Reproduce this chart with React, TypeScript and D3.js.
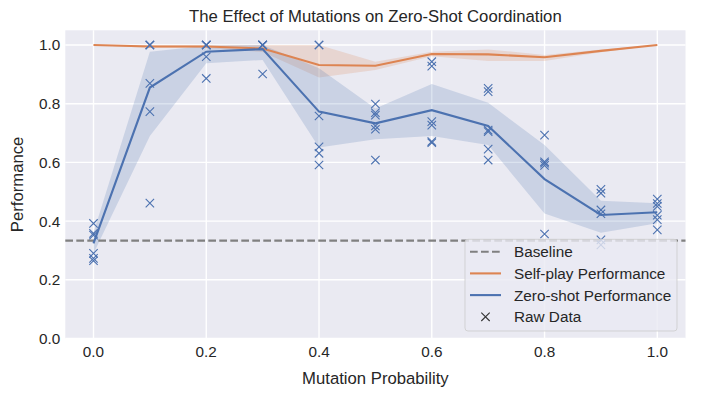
import React from 'react';
import * as d3 from 'd3';

// mutation probabilities on the x axis
const probs = [0, 0.1, 0.2, 0.3, 0.4, 0.5, 0.6, 0.7, 0.8, 0.9, 1.0];

// self-play performance: mean and confidence band
const selfMean = [1.0, 0.995, 0.995, 0.988, 0.932, 0.929, 0.969, 0.968, 0.958, 0.98, 1.0];
const selfLo = [1.0, 0.99, 0.99, 0.976, 0.889, 0.915, 0.962, 0.945, 0.945, 0.975, 1.0];
const selfHi = [1.0, 1.0, 1.0, 1.0, 1.0, 0.943, 0.977, 0.985, 0.966, 0.985, 1.0];

// zero-shot performance: mean and confidence band
const zeroMean = [0.324, 0.855, 0.977, 0.986, 0.773, 0.733, 0.778, 0.724, 0.543, 0.421, 0.43];
const zeroLo = [0.29, 0.69, 0.938, 0.949, 0.651, 0.679, 0.69, 0.659, 0.426, 0.36, 0.393];
const zeroHi = [0.36, 0.977, 0.997, 1.0, 0.921, 0.784, 0.867, 0.803, 0.659, 0.469, 0.461];

// raw zero-shot runs, one list per mutation probability
const rawRuns = [
  [0.392, 0.358, 0.352, 0.29, 0.273, 0.265],
  [1.0, 1.0, 1.0, 0.869, 0.773, 0.461],
  [1.0, 1.0, 1.0, 1.0, 0.96, 0.886],
  [1.0, 1.0, 1.0, 1.0, 1.0, 0.901],
  [1.0, 1.0, 0.758, 0.653, 0.631, 0.591],
  [0.799, 0.769, 0.761, 0.724, 0.713, 0.608],
  [0.943, 0.928, 0.739, 0.727, 0.671, 0.667],
  [0.852, 0.841, 0.71, 0.705, 0.645, 0.608],
  [0.693, 0.602, 0.597, 0.59, 0.356],
  [0.508, 0.495, 0.438, 0.425, 0.336, 0.319],
  [0.475, 0.46, 0.45, 0.42, 0.405, 0.37],
];

const baseline = 1 / 3;
const xTicks = [0, 0.2, 0.4, 0.6, 0.8, 1.0];
const yTicks = [0, 0.2, 0.4, 0.6, 0.8, 1.0];

const W = 701, H = 396;
const left = 65.3, right = 685.5, top = 30.3, bottom = 338.5;
const BLUE = '#4c72b0', ORANGE = '#dd8452', TXT = '#262626';
const FONT = '"Liberation Sans", Arial, sans-serif';

const App = () => {
  const x = d3.scaleLinear().domain([-0.05, 1.05]).range([left, right]);
  const y = d3.scaleLinear().domain([0, 1.05]).range([bottom, top]);

  const line = d3.line<number>().x((d, i) => x(probs[i])).y(d => y(d));
  const band = (lo: number[], hi: number[]) =>
    d3.area<number>().x((d, i) => x(probs[i])).y0((d, i) => y(lo[i])).y1(d => y(d))(hi);

  const cross = (cx: number, cy: number, r: number, color: string, k: string) => (
    <path key={k} d={`M${cx - r},${cy - r}L${cx + r},${cy + r}M${cx - r},${cy + r}L${cx + r},${cy - r}`}
      stroke={color} strokeWidth={1.1} fill="none" />
  );

  const legendRows = [
    { label: 'Baseline', kind: 'dash' },
    { label: 'Self-play Performance', kind: 'orange' },
    { label: 'Zero-shot Performance', kind: 'blue' },
    { label: 'Raw Data', kind: 'x' },
  ];

  return (
    <svg width={W} height={H} style={{ position: 'absolute', left: 0, top: 0 }} fontFamily={FONT}>
      <rect width={W} height={H} fill="white" />
      <rect x={left} y={top} width={right - left} height={bottom - top} fill="#eaeaf2" />
      {xTicks.map(t => (
        <line key={'gx' + t} x1={x(t)} x2={x(t)} y1={top} y2={bottom} stroke="white" strokeWidth={1.4} />
      ))}
      {yTicks.map(t => (
        <line key={'gy' + t} x1={left} x2={right} y1={y(t)} y2={y(t)} stroke="white" strokeWidth={1.4} />
      ))}

      <path d={band(selfLo, selfHi) || ''} fill={ORANGE} fillOpacity={0.2} />
      <path d={band(zeroLo, zeroHi) || ''} fill={BLUE} fillOpacity={0.2} />
      <line x1={left} x2={right} y1={y(baseline)} y2={y(baseline)} stroke="#808080"
        strokeWidth={2.1} strokeDasharray="7.7 3.3" />
      <path d={line(selfMean) || ''} fill="none" stroke={ORANGE} strokeWidth={2.1} />
      <path d={line(zeroMean) || ''} fill="none" stroke={BLUE} strokeWidth={2.1} />

      {rawRuns.map((runs, i) => runs.map((v, j) => cross(x(probs[i]), y(v), 4.2, BLUE, `r${i}-${j}`)))}

      {xTicks.map(t => (
        <text key={'tx' + t} x={x(t)} y={bottom + 18} textAnchor="middle" fontSize={15.3} fill={TXT}>
          {t.toFixed(1)}
        </text>
      ))}
      {yTicks.map(t => (
        <text key={'ty' + t} x={left - 5} y={y(t) + 5.5} textAnchor="end" fontSize={15.3} fill={TXT}>
          {t.toFixed(1)}
        </text>
      ))}
      <text x={(left + right) / 2} y={384} textAnchor="middle" fontSize={16.7} fill={TXT}>Mutation Probability</text>
      <text transform={`translate(23,${(top + bottom) / 2}) rotate(-90)`} textAnchor="middle" fontSize={16.7} fill={TXT}>
        Performance
      </text>
      <text x={(left + right) / 2} y={22} textAnchor="middle" fontSize={16.7} fill={TXT}>
        The Effect of Mutations on Zero-Shot Coordination
      </text>

      <g>
        <rect x={465} y={239.3} width={212} height={91.7} rx={3} fill="#eaeaf2" fillOpacity={0.8}
          stroke="#cccccc" strokeOpacity={0.8} />
        {legendRows.map((r, i) => {
          const cy = 251.7 + i * 21.7;
          let handle;
          if (r.kind === 'dash') handle = <line x1={470} x2={501} y1={cy} y2={cy} stroke="#808080" strokeWidth={2.1} strokeDasharray="7.7 3.3" />;
          else if (r.kind === 'orange') handle = <line x1={470} x2={501} y1={cy} y2={cy} stroke={ORANGE} strokeWidth={2.1} />;
          else if (r.kind === 'blue') handle = <line x1={470} x2={501} y1={cy} y2={cy} stroke={BLUE} strokeWidth={2.1} />;
          else handle = cross(485.5, cy, 4.2, '#333333', 'lx');
          return (
            <g key={r.label}>
              {handle}
              <text x={514} y={cy + 5.5} fontSize={15.3} fill={TXT}>{r.label}</text>
            </g>
          );
        })}
      </g>
    </svg>
  );
};

export default App;
